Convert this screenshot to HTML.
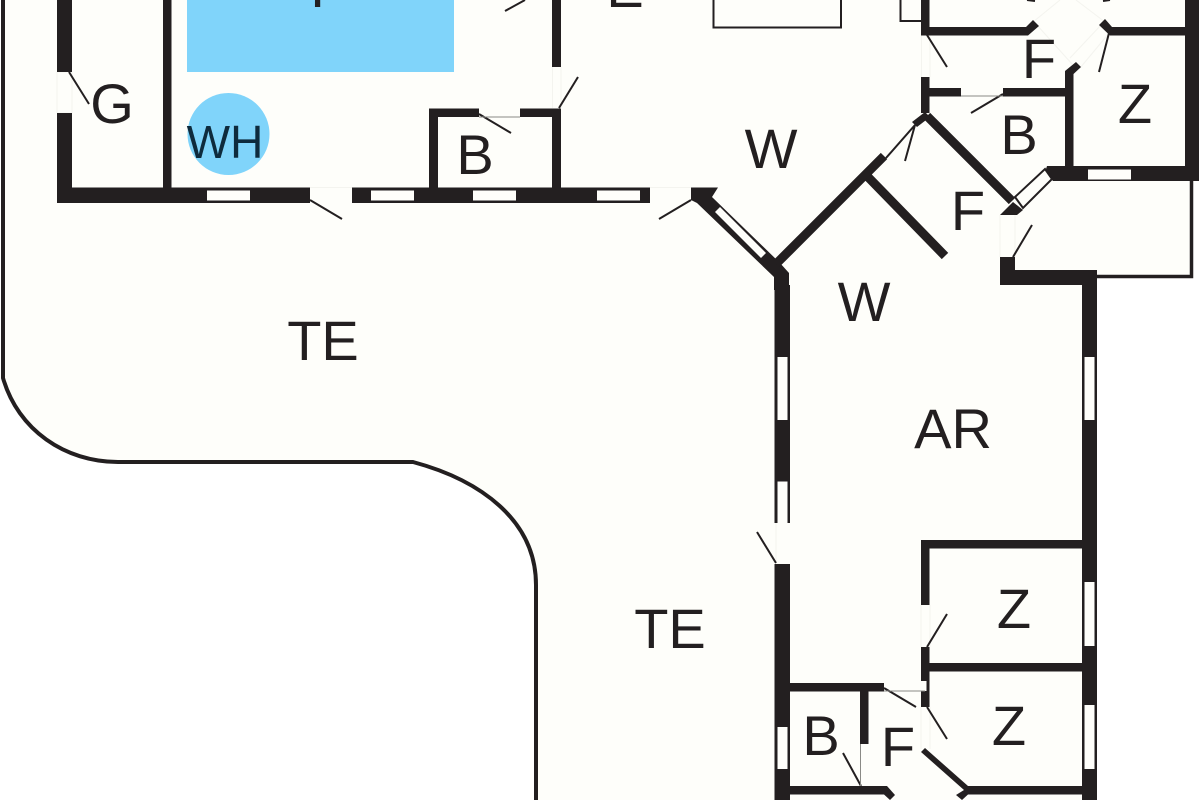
<!DOCTYPE html>
<html><head><meta charset="utf-8"><style>
html,body{margin:0;padding:0;background:#fff;width:1200px;height:800px;overflow:hidden}
svg{display:block}
text{font-family:"Liberation Sans",sans-serif;font-size:56px;fill:#231f20;text-anchor:middle}
</style></head><body>
<svg width="1200" height="800" viewBox="0 0 1200 800" xmlns="http://www.w3.org/2000/svg">
<rect width="1200" height="800" fill="#fff"/>
<path d="M3,0 L3,378 C18,430 65,462 118,462 L413,462 C480,480 536,520 536,585 L536,800 L1090,800 L1090,277 L1192,277 L1192,0 Z" fill="#fefefa"/>
<path d="M3,0 L3,378 C18,430 65,462 118,462 L413,462 C480,480 536,520 536,585 L536,800" fill="none" stroke="#231f20" stroke-width="4"/>
<rect x="187" y="0" width="267" height="72" fill="#80d4fa"/>
<circle cx="228.500" cy="134" r="41" fill="#80d4fa"/>
<g fill="none" stroke="#231f20" stroke-width="2">
<path d="M713.500,0 V27.500 H841 V0"/>
<path d="M900.500,0 V21 H922"/>
<path d="M1191.500,181 V276.500 H1097" stroke-width="3.500"/>
</g>
<g fill="none" stroke="#f4f4ef" stroke-width="1">
<path d="M310,187.500 H352 M650,187.500 H691 M552.500,67 V108 M561,67 V108 M921.500,35 V77 M930,35 V77 M921,605 V647 M930,605 V647 M921,707 V749 M930,707 V749 M1000,215 V257 M1015,215 V257 M776,523 V564 M57,72 H72 M57,113 H72 M57,72 V113 M72,72 V113"/>
<path d="M1036,24 L1072,64 M1033,22 L1060,0 M1105,22 L1076,0 M1110,32 L1080,68 M1102,24 L1070,58"/>
</g>
<g fill="#231f20">
<rect x="57" y="0" width="15" height="72"/>
<rect x="57" y="113" width="15" height="90"/>
<rect x="163" y="0" width="8.500" height="190"/>
<rect x="57" y="187.500" width="253" height="15.500"/>
<rect x="352" y="187.500" width="298" height="15.500"/>
<rect x="429" y="108.500" width="50" height="8.500"/>
<rect x="520" y="108.500" width="41" height="8.500"/>
<rect x="429" y="108.500" width="9" height="80"/>
<rect x="552" y="108.500" width="9" height="80"/>
<rect x="552" y="0" width="9" height="67"/>
<polygon points="691,187.500 718,187.500 712,197 780,263 789,273 789,290 774,290 774,277 697,203 691,200"/>
<rect x="774.500" y="285" width="15.500" height="238"/>
<rect x="774.500" y="564" width="15.500" height="236"/>
<rect x="921" y="0" width="8.500" height="35"/>
<rect x="921" y="27" width="102" height="8.500"/>
<polygon points="1033,20 1039,26 1028,35.500 1020,35.500 1020,27 1026,27"/>
<polygon points="1099,25 1105,19 1112,27 1185,27 1185,35.500 1110,35.500"/>
<rect x="1185" y="0" width="14" height="181"/>
<rect x="921" y="77" width="8.500" height="36"/>
<rect x="921" y="88" width="40" height="8.500"/>
<rect x="1003" y="88" width="70" height="8.500"/>
<rect x="1065" y="75" width="8.500" height="95"/>
<polygon points="1065,88 1065,71 1076,62 1081,67 1073.500,74 1073.500,88"/>
<polygon points="1047,166 1199,166 1199,181 1053,181 1045,172"/>
<polygon points="912,122 925,112 930,117 917,127"/>
<polygon points="1000,215 1013,202 1023,210 1017,215"/>
<rect x="1000" y="257" width="15" height="28"/>
<rect x="1000" y="270" width="97" height="15"/>
<rect x="1082" y="270" width="15" height="530"/>
<rect x="921" y="540" width="8.500" height="65"/>
<rect x="921" y="540" width="161" height="8.500"/>
<rect x="921" y="647" width="8.500" height="34"/>
<rect x="921" y="663" width="161" height="8.500"/>
<rect x="926.500" y="681" width="3" height="10"/>
<rect x="921" y="691" width="8.500" height="16"/>
<rect x="790" y="683" width="94" height="8.500"/>
<rect x="860" y="691" width="8.500" height="53"/>
<polygon points="790,786 887,786 895,795 890,800 884,794.500 790,794.500"/>
<polygon points="921,752 925,748 968,786 1082,786 1082,794.500 968,794.500 962,800 956,795 964,790"/>
</g>
<g fill="none" stroke="#231f20" stroke-width="9">
<line x1="776" y1="264" x2="884" y2="156"/>
<line x1="927" y1="116" x2="1012" y2="201"/>
<line x1="868" y1="177" x2="945" y2="256"/>
</g>
<g fill="#fefefa">
<rect x="207" y="190.500" width="43" height="10"/>
<rect x="371" y="190.500" width="43" height="10"/>
<rect x="473" y="190.500" width="43" height="10"/>
<rect x="597" y="190.500" width="43" height="10"/>
<rect x="1088" y="169.500" width="43" height="10"/>
<rect x="777.500" y="357" width="10" height="63"/>
<rect x="777.500" y="481.500" width="10" height="42"/>
<rect x="777.500" y="727" width="10" height="42"/>
<rect x="1084.500" y="357" width="10" height="63"/>
<rect x="1084.500" y="582" width="10" height="64"/>
<rect x="1084.500" y="705" width="10" height="64"/>
<polygon points="715,212 720,207 766,253 761,258"/>
<polygon points="1015,197 1045,169 1052,179 1023,208" stroke="#231f20" stroke-width="2"/>
</g>
<g fill="none" stroke="#231f20" stroke-width="2">
<path d="M69,72 L89,104"/>
<path d="M310,200 L342,219"/>
<path d="M691,200 L659,219"/>
<path d="M479,114 L511,133"/>
<path d="M559,108 L578,77"/>
<path d="M505,11 L525,0"/>
<path d="M927,35 L947,67"/>
<path d="M1003,94 L971,113"/>
<path d="M1109,33 L1099,72"/>
<path d="M1013,257 L1032,225"/>
<path d="M886,158 L915,125 L905,161"/>
<path d="M776,563 L757,532"/>
<path d="M927,647 L947,614"/>
<path d="M884,688 L916,707"/>
<path d="M927,707 L947,739"/>
<path d="M861,786 L843,753"/>
<path d="M1027,0 L1035,1 M1103,1 L1110,0"/>
</g>
<g fill="none" stroke="#8a8a86" stroke-width="1">
<path d="M479,117 H520"/>
<path d="M961,96 H1003"/>
<path d="M884,691 H925"/>
<path d="M860.500,744 V786"/>
</g>
<text x="112" y="123">G</text>
<text x="225" y="158" style="font-size:46px;fill:#0e2b3d">WH</text>
<text x="475" y="174">B</text>
<text x="771" y="168">W</text>
<text x="1039" y="78">F</text>
<text x="1019" y="154">B</text>
<text x="1135" y="123">Z</text>
<text x="968" y="230">F</text>
<text x="864" y="321">W</text>
<text x="323" y="360">TE</text>
<text x="953" y="448">AR</text>
<text x="670" y="648">TE</text>
<text x="1014" y="628">Z</text>
<text x="1009" y="745">Z</text>
<text x="821" y="755">B</text>
<text x="898" y="766">F</text>
<text x="329" y="7">P</text>
<text x="625" y="7">E</text>
</svg>
</body></html>
